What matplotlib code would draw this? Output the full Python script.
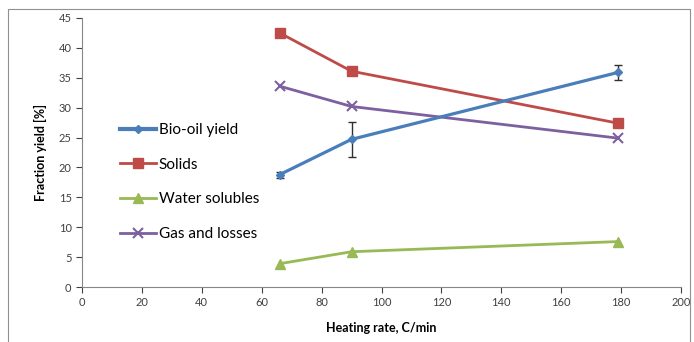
import numpy as np
import matplotlib
matplotlib.use("Agg")
import matplotlib.pyplot as plt

plt.rcParams['font.family'] = ['Lato', 'DejaVu Sans']

# heating rates (C/min)
rates = [66, 90, 179]

bio_oil = [18.8, 24.7, 35.9]
bio_oil_err = [0.5, 2.9, 1.2]
solids = [42.5, 36.1, 27.4]
water = [3.9, 5.9, 7.6]
gas = [33.6, 30.2, 24.9]

xticks = np.arange(0, 201, 20)
yticks = np.arange(0, 46, 5)

fig = plt.figure(figsize=(6.94, 3.42), dpi=100)
# chart area border
fig.patches.append(plt.Rectangle((8 / 694, -0.02), 682 / 694, 1 - 9 / 342 + 0.02,
                                 transform=fig.transFigure, fill=False,
                                 edgecolor='#909090', lw=0.8))
ax = fig.add_axes([82 / 694, 1 - 287 / 342, 599 / 694, 269 / 342])

eb = ax.errorbar(rates, bio_oil, yerr=bio_oil_err, color='#4A7EBB', lw=2.3,
                 marker='D', ms=4, ecolor='#303030', elinewidth=1, capsize=3,
                 capthick=1, zorder=3)
h1, = ax.plot([], [], color='#4A7EBB', lw=3, marker='D', ms=4)
h2, = ax.plot(rates, solids, color='#BE4B48', lw=2, marker='s', ms=7)
h3, = ax.plot(rates, water, color='#98B954', lw=2, marker='^', ms=7)
h4, = ax.plot(rates, gas, color='#7D60A0', lw=2, marker='x', ms=7, mew=1.5)

ax.set_xlim(0, 200)
ax.set_ylim(0, 45)
ax.set_xticks(xticks)
ax.set_yticks(yticks)
ax.tick_params(labelsize=8, colors='#404040', length=4, width=0.8)
for s in ['top', 'right']:
    ax.spines[s].set_visible(False)
for s in ['left', 'bottom']:
    ax.spines[s].set_color('#868686')
    ax.spines[s].set_linewidth(0.8)

ax.set_xlabel('Heating rate, C/min', fontsize=9, fontweight='bold', labelpad=10)
ax.set_ylabel('Fraction yield [%]', fontsize=9, fontweight='bold', labelpad=8)

ax.legend([h1, h2, h3, h4],
          ['Bio-oil yield', 'Solids', 'Water solubles', 'Gas and losses'],
          loc='upper left', bbox_to_anchor=(0.04, 0.66), frameon=False,
          fontsize=11, handlelength=2.4, labelspacing=1.35, handletextpad=0.15)

fig.savefig('out.png', dpi=100)
